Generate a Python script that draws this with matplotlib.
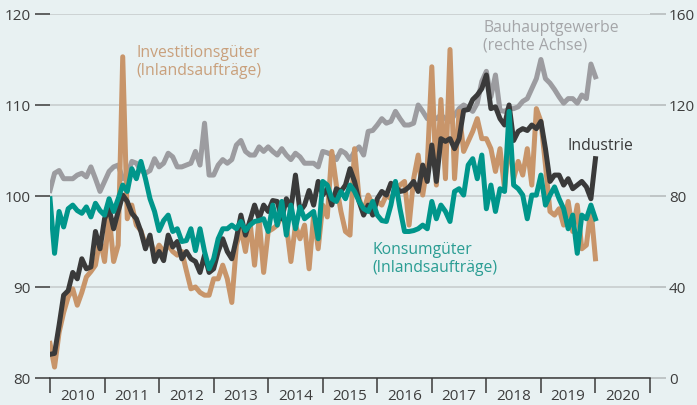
import numpy as np
import matplotlib
matplotlib.use("Agg")
import matplotlib.pyplot as plt
from matplotlib.ticker import FixedLocator, NullFormatter

plt.rcParams['font.family'] = ['Open Sans', 'DejaVu Sans']

# monthly values Jan 2010 - Jan 2020
industrie = [
    82.6, 82.7, 85.8, 89.1, 89.6, 91.6, 90.9, 93.1, 92.0, 92.2, 96.1, 94.2,
    97.5, 98.6, 96.4, 98.3, 100.1, 99.4, 98.1, 97.5, 96.1, 94.2, 95.7, 92.8,
    93.9, 92.9, 95.7, 94.4, 95.0, 93.1, 93.9, 93.1, 92.8, 91.6, 93.5, 91.6,
    92.0, 93.9, 95.3, 93.9, 93.1, 95.3, 97.9, 95.7, 97.3, 99.0, 97.5, 99.0,
    98.3, 99.5, 99.4, 97.5, 99.7, 98.6, 102.3, 98.3, 99.0, 100.6, 99.0, 101.6,
    100.1, 100.8, 99.0, 100.8, 100.5, 101.2, 103.0, 101.6, 99.4, 97.9, 99.0, 97.9,
    99.7, 100.5, 100.1, 101.4, 101.0, 100.5, 100.6, 101.0, 101.6, 100.5, 103.4, 101.6,
    105.6, 101.6, 106.3, 106.0, 106.3, 105.2, 106.3, 109.4, 109.5, 110.6, 111.1, 111.8,
    113.3, 109.6, 109.8, 108.5, 107.8, 110.0, 106.1, 107.1, 107.4, 107.2, 107.8, 107.4,
    108.2, 105.2, 101.6, 102.3, 102.3, 101.2, 101.9, 100.8, 101.2, 101.6, 101.0, 99.7,
    104.1]

investition = [
    83.8, 81.2, 85.0, 87.2, 88.9, 89.8, 88.0, 89.4, 91.1, 91.7, 92.4, 95.3,
    92.8, 97.9, 92.8, 94.6, 115.3, 97.5, 99.0, 96.8, 96.2, 94.6, 95.3, 93.5,
    94.6, 93.9, 94.6, 93.9, 93.5, 93.9, 91.8, 89.8, 90.0, 89.4, 89.1, 89.1,
    90.9, 90.9, 92.4, 90.9, 88.3, 94.6, 96.4, 93.9, 97.2, 92.4, 97.5, 91.6,
    96.1, 96.4, 96.8, 97.9, 96.8, 92.8, 96.8, 95.3, 96.8, 92.0, 97.9, 94.2,
    99.0, 97.7, 104.9, 101.2, 98.3, 96.1, 95.7, 105.2, 99.7, 98.3, 100.1, 99.0,
    99.4, 99.0, 100.1, 99.7, 100.5, 101.2, 101.6, 96.8, 101.9, 104.5, 100.1, 103.4,
    114.2, 101.2, 110.6, 101.9, 116.1, 101.9, 109.3, 104.9, 106.0, 107.1, 108.5, 106.3,
    106.3, 105.2, 102.7, 105.2, 100.8, 106.3, 101.9, 103.8, 102.3, 105.2, 101.2, 109.6,
    108.2, 103.4, 98.3, 97.9, 98.6, 96.8, 99.4, 96.1, 99.0, 94.2, 94.6, 98.6,
    93.1]

konsum = [
    99.7, 93.7, 98.3, 96.6, 98.6, 99.0, 98.4, 98.1, 98.8, 97.7, 99.2, 98.4,
    97.9, 99.7, 98.3, 99.7, 101.2, 100.5, 103.0, 101.9, 103.8, 101.9, 99.7, 98.3,
    96.2, 97.3, 97.9, 96.1, 96.4, 95.0, 95.1, 96.4, 94.0, 96.4, 93.9, 92.0,
    93.1, 95.3, 96.4, 96.4, 96.8, 96.4, 97.2, 96.2, 96.8, 97.2, 97.3, 97.5,
    96.1, 99.0, 96.8, 99.4, 95.7, 99.0, 96.4, 98.8, 97.5, 97.9, 98.3, 95.3,
    101.6, 101.2, 99.7, 99.4, 100.5, 99.7, 101.2, 100.5, 99.4, 98.6, 98.3, 99.4,
    97.9, 97.3, 97.2, 99.0, 101.6, 98.6, 96.1, 96.1, 96.2, 96.4, 96.8, 96.4,
    99.4, 97.5, 99.0, 98.3, 97.2, 100.5, 100.8, 100.1, 103.4, 104.1, 101.9, 104.5,
    98.6, 101.2, 98.3, 100.8, 100.5, 109.3, 101.2, 100.8, 100.1, 97.5, 100.1, 100.1,
    102.3, 99.0, 100.1, 101.0, 99.7, 98.6, 96.4, 97.9, 93.7, 97.9, 97.5, 99.0,
    97.5]

# right axis
bau = [
    82.4, 90.0, 91.2, 87.6, 87.6, 87.6, 89.2, 90.0, 88.4, 92.8, 87.6, 82.0,
    86.4, 90.8, 92.8, 93.6, 87.6, 89.2, 95.2, 94.4, 91.2, 90.0, 91.2, 96.4,
    92.8, 94.4, 98.8, 97.2, 92.8, 92.8, 93.6, 94.4, 99.6, 93.6, 112.0, 89.2,
    89.2, 93.6, 96.0, 94.4, 96.0, 102.4, 104.4, 99.6, 98.0, 98.0, 101.6, 99.6,
    101.6, 99.6, 98.0, 100.8, 98.0, 96.0, 98.8, 97.2, 94.4, 94.4, 94.4, 92.8,
    99.6, 99.0, 98.0, 96.0, 100.0, 98.8, 96.0, 99.6, 101.6, 98.0, 108.4, 108.8,
    111.2, 114.0, 112.0, 112.8, 117.2, 114.0, 111.2, 111.2, 112.0, 120.0, 117.2, 114.0,
    114.8, 114.0, 115.6, 114.0, 112.8, 115.6, 118.4, 120.0, 118.8, 117.2, 120.8, 130.4,
    134.8, 123.6, 133.2, 117.6, 117.2, 118.4, 118.4, 119.2, 121.6, 122.8, 127.2, 131.6,
    140.0, 131.6, 129.6, 126.8, 123.6, 120.8, 122.8, 122.8, 120.8, 124.4, 122.8, 138.0,
    132.4]

years = list(range(2010, 2021))
left_ticks = [80, 90, 100, 110, 120]
right_ticks = [0, 40, 80, 120, 160]

x = 2010 + np.arange(len(industrie)) / 12

BG = '#e8f1f2'
DARK = '#3a3a3a'
LW = 3.6

fig = plt.figure(figsize=(6.97, 4.06), dpi=100, facecolor=BG)
ax = fig.add_axes([50/697, 27/406, 600/697, 364/406])
ax2 = ax.twinx()
ax2.set_facecolor(BG)
# keep the right-axis line underneath the others
ax.set_zorder(ax2.get_zorder() + 1)
ax.patch.set_visible(False)

ax2.plot(x, bau, color='#9c9ca0', lw=LW)
ax.plot(x, investition, color='#c8956a', lw=LW)
ax.plot(x, industrie, color=DARK, lw=LW)
ax.plot(x, konsum, color='#00968b', lw=LW)

ax.set_xlim(2010, 2021)
ax.set_ylim(80, 120)
ax2.set_ylim(0, 160)

for a in (ax, ax2):
    for s in a.spines.values():
        s.set_visible(False)
ax.spines['bottom'].set_visible(True)
ax.spines['bottom'].set_color(DARK)
ax.spines['bottom'].set_linewidth(1.1)

ax2.set_yticks(right_ticks)
ax2.yaxis.grid(True, color='#c6cbcc', lw=1.1)
ax2.tick_params(axis='y', length=11.5, width=1.1, color='#b3b8b9', pad=2,
                labelsize=11, labelcolor='#3d3d3d')

ax.set_yticks(left_ticks)
ax.tick_params(axis='y', length=10.8, width=1.1, color=DARK, pad=3,
               labelsize=11, labelcolor='#3d3d3d')

ax.xaxis.set_major_locator(FixedLocator(years + [2021]))
ax.xaxis.set_major_formatter(NullFormatter())
ax.xaxis.set_minor_locator(FixedLocator([y + 0.5 for y in years]))
ax.set_xticklabels([str(y) for y in years], minor=True)
ax.tick_params(axis='x', which='major', length=10.8, width=1.1, color=DARK)
ax.tick_params(axis='x', which='minor', length=0, pad=7, labelsize=11,
               labelcolor='#3d3d3d')

ax.text(2011.58, 116.7, 'Investitionsgüter\n(Inlandsaufträge)', color='#c9a07c',
        fontsize=11.3, va='top', ha='left', linespacing=1.15)
ax.text(2017.94, 119.5, 'Bauhauptgewerbe\n(rechte Achse)', color='#a5a6a9',
        fontsize=11.3, va='top', ha='left', linespacing=1.15)
ax.text(2019.49, 106.5, 'Industrie', color=DARK,
        fontsize=11.3, va='top', ha='left')
ax.text(2015.91, 95.0, 'Konsumgüter\n(Inlandsaufträge)', color='#2a9d93',
        fontsize=11.3, va='top', ha='left', linespacing=1.15)

fig.savefig('out.png', dpi=100, facecolor=BG)
